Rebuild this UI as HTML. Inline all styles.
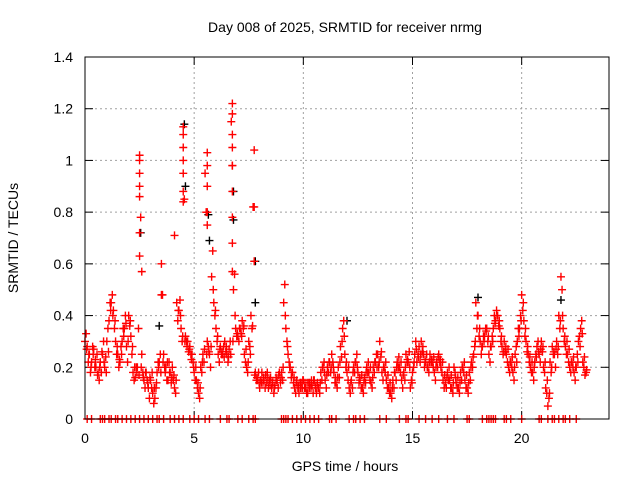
<!DOCTYPE html>
<html><head><meta charset="utf-8"><style>
html,body{margin:0;padding:0;background:#fff;}
svg{display:block;font-family:"Liberation Sans",sans-serif;}
</style></head><body>
<svg id="chart" width="640" height="480">
<rect x="0" y="0" width="640" height="480" fill="#fff"/>
<text x="345" y="32" font-size="14" text-anchor="middle">Day 008 of 2025, SRMTID for receiver nrmg</text>
<text x="0" y="0" font-size="14" text-anchor="middle" transform="translate(18,238) rotate(-90)">SRMTID / TECUs</text>
<text x="345" y="471" font-size="14" text-anchor="middle">GPS time / hours</text>
<g id="grid"></g>
<g id="ticks"></g>
<g id="black"></g>
<g id="red"></g>
<rect x="85" y="57" width="524" height="362" fill="none" stroke="#000" stroke-width="1"/>
</svg>
<script>
const xTicks=[0,5,10,15,20];
const yTicks=[0,0.2,0.4,0.6,0.8,1,1.2,1.4];
const yTickLabels=["0","0.2","0.4","0.6","0.8","1","1.2","1.4"];
const valsA=[.30,.28,.25,.22,.27,.20,.18,.22,.25,.20,
.30,.38,.45,.42,.30,.25,.22,.30,.35,.28,
.40,.32,.18,.16,.20,.90,.25,.15,.18,.12,
.15,.10,.08,.18,.22,.60,.25,.20,.15,.18,
.20,.12,.45,.42,.35,1.00,.32,.30,.28,.25,
.18,.15,.10,.20,.25,.95,.30,.25,.55,.45,
.35,.25,.28,.25,.30,.25,.27,1.15,.50,.35,
.32,.35,.38,.25,.20,.30,.40,.82,.18,.15,
.12,.18,.15,.14,.12,.16,.14,.13,.15,.18,
.18,.45,.35,.25,.20,.18,.12,.15,.10,.14,
.15,.12,.10,.14,.13,.15,.10,.12,.18,.20,
.15,.20,.22,.25,.18,.14,.20,.28,.35,.25,
.18,.12,.15,.20,.22,.18,.15,.12,.16,.20,
.18,.14,.20,.22,.25,.30,.18,.20,.15,.12,
.10,.15,.18,.22,.20,.15,.18,.25,.22,.12,
.18,.25,.22,.28,.30,.25,.22,.20,.25,.22,
.18,.22,.25,.20,.15,.14,.18,.15,.12,.20,
.14,.12,.18,.20,.15,.12,.18,.22,.25,.45,
.40,.30,.28,.32,.35,.25,.28,.35,.38,.40,
.35,.28,.30,.25,.20,.22,.18,.25,.30,.35,
.48,.38,.30,.25,.20,.18,.22,.28,.25,.30,
.20,.12,.05,.22,.28,.25,.30,.40,.55,.35,
.28,.25,.20,.22,.18,.20,.30,.35,.22,.17];
const valsB=[.33,.22,.18,.28,.20,.25,.15,.18,.30,.24,
.35,.45,.48,.35,.25,.20,.28,.35,.40,.22,
.36,.25,.15,.20,.35,.78,.18,.12,.15,.08,
.12,.06,.12,.22,.25,.48,.20,.15,.22,.14,
.15,.10,.38,.46,.30,.85,.30,.26,.25,.22,
.15,.12,.08,.18,.22,.80,.28,.20,.65,.40,
.30,.22,.25,.28,.26,.22,.30,.98,.56,.32,
.30,.33,.35,.22,.18,.28,.35,.61,.15,.18,
.15,.14,.12,.18,.15,.12,.10,.16,.12,.14,
.15,.52,.30,.22,.16,.14,.10,.12,.14,.12,
.12,.10,.14,.12,.10,.12,.14,.10,.15,.22,
.12,.18,.18,.22,.14,.12,.16,.24,.38,.20,
.15,.10,.12,.18,.25,.14,.12,.10,.14,.18,
.15,.12,.18,.25,.20,.24,.15,.18,.12,.10,
.08,.12,.15,.20,.18,.12,.15,.22,.26,.15,
.20,.30,.25,.22,.26,.20,.25,.18,.22,.20,
.15,.20,.22,.18,.12,.12,.15,.12,.10,.18,
.12,.10,.15,.18,.12,.10,.15,.20,.28,.35,
.32,.25,.32,.35,.30,.22,.32,.40,.42,.36,
.30,.25,.26,.22,.18,.20,.15,.28,.35,.40,
.42,.32,.26,.22,.18,.15,.25,.30,.22,.26,
.18,.10,.08,.18,.25,.20,.25,.35,.50,.30,
.25,.22,.18,.20,.15,.25,.32,.38,.20,.18];
const valsC=[.27,.25,.20,.25,.23,.17,.20,.26,.22,.18,
.26,.42,.40,.38,.28,.23,.25,.32,.37,.30,
.38,.28,.20,.18,.17,.20,.16,.18,.14,.16,
.18,.12,.14,.20,.18,.22,.18,.22,.18,.16,
.17,.15,.42,.40,.32,.30,.28,.27,.23,.20,
.20,.14,.12,.22,.27,.25,.26,.28,.50,.42,
.32,.27,.26,.24,.28,.24,.25,.30,.40,.33,
.35,.32,.36,.27,.22,.25,.36,.17,.16,.14,
.14,.16,.17,.15,.13,.14,.12,.15,.17,.16,
.20,.40,.28,.20,.18,.16,.14,.13,.12,.15,
.14,.14,.12,.15,.15,.13,.12,.14,.20,.18,
.17,.22,.20,.20,.16,.16,.22,.30,.32,.22,
.20,.14,.18,.22,.20,.16,.17,.14,.18,.22,
.20,.16,.22,.20,.22,.26,.20,.22,.17,.14,
.12,.18,.20,.24,.22,.17,.20,.23,.20,.14,
.22,.27,.24,.25,.28,.23,.20,.22,.23,.24,
.20,.24,.23,.22,.17,.16,.20,.17,.14,.16,
.16,.14,.20,.22,.17,.14,.20,.24,.30,.40,
.35,.28,.30,.34,.32,.28,.30,.37,.40,.38,
.32,.26,.28,.27,.22,.24,.20,.22,.32,.38,
.45,.35,.28,.24,.22,.20,.24,.26,.27,.28,
.22,.15,.10,.20,.26,.27,.28,.38,.40,.32,
.30,.27,.22,.24,.20,.22,.28,.33,.24,.19];
const spikeT=[2.5,2.5,2.5,2.5,2.5,2.5,2.6,3.5,4.1,4.5,4.5,4.5,4.5,4.5,4.5,5.6,5.6,5.6,5.6,5.6,6.75,6.75,6.75,6.75,6.75,6.75,6.75,6.75,6.75,7.75,7.75];
const spikeV=[.63,.72,.86,.95,1.0,1.02,.57,.48,.71,.84,.88,.95,1.05,1.1,1.13,.98,1.03,.9,.8,.75,1.22,1.18,1.1,1.05,.98,.88,.78,.68,.57,1.04,.82];
const blackT=[2.55,4.55,4.6,5.65,5.7,6.8,6.8,7.8,7.8,3.4,12.0,18.0,21.8];
const blackV=[.72,1.14,.9,.79,.69,.88,.77,.61,.45,.36,.38,.47,.46];
const zeroT=[0.1,0.3,0.7,0.8,0.9,1.1,1.2,1.4,1.5,1.7,1.9,2.1,2.3,2.5,2.7,2.9,3.1,3.3,3.4,3.6,3.9,4.1,4.3,4.5,4.8,5.0,5.2,5.5,5.7,6.2,6.5,6.6,7.0,7.2,7.5,7.7,7.8,9.0,9.1,9.2,9.3,9.5,9.7,9.9,10.1,10.3,10.5,10.7,11.2,11.3,11.5,12.1,12.3,12.4,12.6,12.8,13.5,13.8,14.4,14.7,14.8,15.3,15.6,15.9,16.2,16.6,16.9,17.5,17.6,18.2,18.4,18.5,18.6,18.7,18.8,19.2,19.3,19.5,20.0,20.8,20.9,21.2,21.4,21.5,21.7,21.9,22.0,22.2,22.5];

const NS="http://www.w3.org/2000/svg";
const X0=85,X1=609,Y0=419,Y1=57;
function xs(t){return X0+t*(X1-X0)/24;}
function ys(v){return Y0-v*(Y0-Y1)/1.4;}
function mk(tag,attrs,parent){const e=document.createElementNS(NS,tag);for(const k in attrs)e.setAttribute(k,attrs[k]);parent.appendChild(e);return e;}
const grid=document.getElementById('grid'),ticks=document.getElementById('ticks');
yTicks.forEach((v,i)=>{
  const y=ys(v);
  if(i>0&&i<yTicks.length-1){const g=mk('line',{x1:X0,x2:X1,y1:y,y2:y,stroke:'#a0a0a0','stroke-dasharray':'2,3'},grid);
  
  }
  mk('line',{x1:X0,x2:X0+8,y1:y,y2:y,stroke:'#000'},ticks);
  mk('line',{x1:X1-8,x2:X1,y1:y,y2:y,stroke:'#000'},ticks);
  const t=mk('text',{x:X0-12,y:y+5,'font-size':14,'text-anchor':'end'},ticks);
  t.textContent=yTickLabels[i];
  
  
});
xTicks.forEach(v=>{
  const x=xs(v);
  if(v>0){const g=mk('line',{x1:x,x2:x,y1:Y0,y2:Y1,stroke:'#a0a0a0','stroke-dasharray':'2,3'},grid);
  
  }
  mk('line',{x1:x,x2:x,y1:Y0,y2:Y0-8,stroke:'#000'},ticks);
  mk('line',{x1:x,x2:x,y1:Y1,y2:Y1+8,stroke:'#000'},ticks);
  const t=mk('text',{x:x,y:Y0+24,'font-size':14,'text-anchor':'middle'},ticks);
  t.textContent=String(v);
  
  
});
function plus(parent,t,v,color){
  const x=xs(t),y=ys(v);
  const p=mk('path',{d:`M${x-4},${y}h8M${x},${y-4}v8`,stroke:color,'stroke-width':1.4,fill:'none'},parent);
  
  
}
const black=document.getElementById('black'),red=document.getElementById('red');
blackT.forEach((t,i)=>plus(black,t,blackV[i],'#000'));
valsA.forEach((v,i)=>plus(red,i*0.1,v,'#ff0000'));
valsB.forEach((v,i)=>plus(red,i*0.1+0.05,v,'#ff0000'));
valsC.forEach((v,i)=>plus(red,i*0.1+0.075,v,'#ff0000'));
spikeT.forEach((t,i)=>plus(red,t,spikeV[i],'#ff0000'));
zeroT.forEach(t=>plus(red,t,0,'#ff0000'));
</script>
</body></html>
